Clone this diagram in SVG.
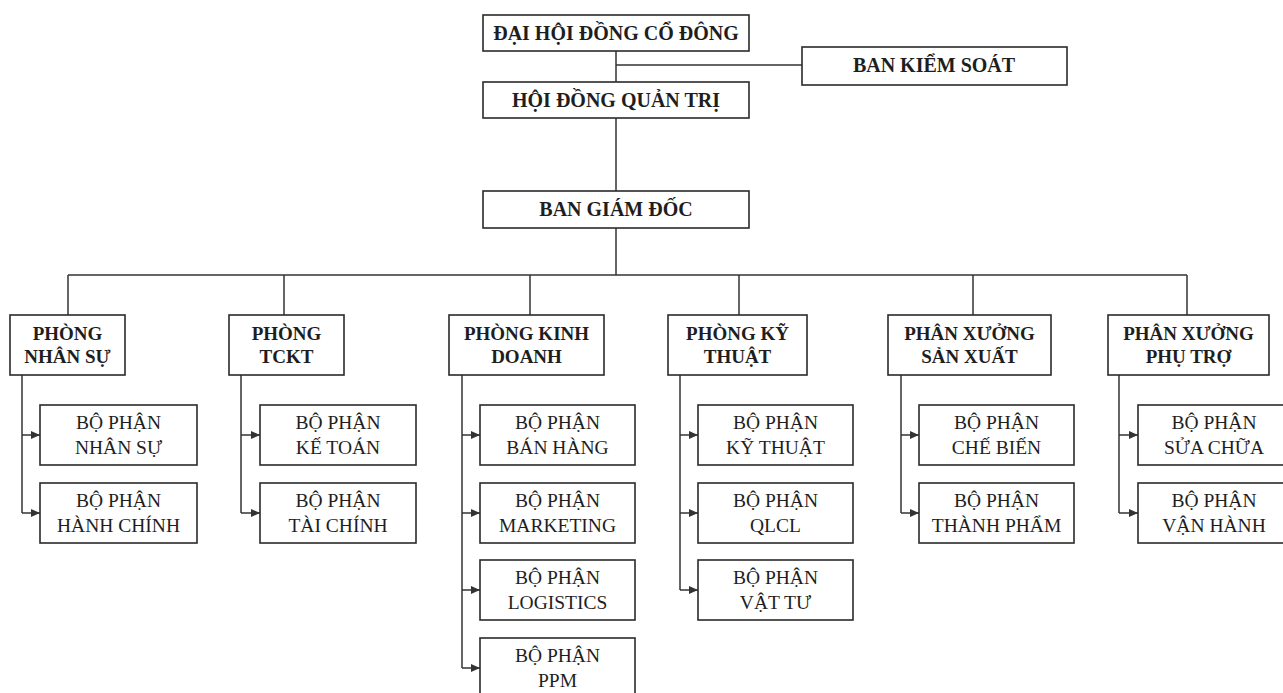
<svg xmlns="http://www.w3.org/2000/svg" width="1283" height="693" viewBox="0 0 1283 693">
<defs>
<marker id="arr" markerUnits="userSpaceOnUse" markerWidth="9" markerHeight="8" refX="9" refY="4" orient="auto">
<path d="M0,0 L9,4 L0,8 z" fill="#333"/>
</marker>
<style>
rect.b{fill:#fff;stroke:#2a2a2a;stroke-width:1.6}
text{font-family:"Liberation Serif","Times New Roman",serif;fill:#1e1e1e;text-anchor:middle}
text.t1{font-size:20px;font-weight:bold}
text.t2{font-size:19px;font-weight:bold}
text.t3{font-size:19.5px}
.c path{fill:none;stroke:#333;stroke-width:1.5}
</style>
</defs>
<rect width="1283" height="693" fill="#fff"/>
<g class="c" id="connectors">
<path d="M616,51 V82"/>
<path d="M616,118 V191"/>
<path d="M616,65 H802"/>
<path d="M616,228 V275"/>
<path d="M68,275 H1187"/>
<path d="M68,275 V315"/>
<path d="M284,275 V315"/>
<path d="M530,275 V315"/>
<path d="M739,275 V315"/>
<path d="M973,275 V315"/>
<path d="M1187,275 V315"/>
<path d="M22,375 V513"/>
<path d="M22,435 H40" marker-end="url(#arr)"/>
<path d="M22,513 H40" marker-end="url(#arr)"/>
<path d="M241,375 V513"/>
<path d="M241,435 H260" marker-end="url(#arr)"/>
<path d="M241,513 H260" marker-end="url(#arr)"/>
<path d="M462,375 V668"/>
<path d="M462,435 H480" marker-end="url(#arr)"/>
<path d="M462,513 H480" marker-end="url(#arr)"/>
<path d="M462,590 H480" marker-end="url(#arr)"/>
<path d="M462,668 H480" marker-end="url(#arr)"/>
<path d="M680,375 V590"/>
<path d="M680,435 H698" marker-end="url(#arr)"/>
<path d="M680,513 H698" marker-end="url(#arr)"/>
<path d="M680,590 H698" marker-end="url(#arr)"/>
<path d="M901,375 V513"/>
<path d="M901,435 H919" marker-end="url(#arr)"/>
<path d="M901,513 H919" marker-end="url(#arr)"/>
<path d="M1119,375 V513"/>
<path d="M1119,435 H1138" marker-end="url(#arr)"/>
<path d="M1119,513 H1138" marker-end="url(#arr)"/>
</g>
<g id="dhdcd"><rect class="b" x="483" y="15" width="266" height="36"/><text class="t1" x="616" y="40">ĐẠI HỘI ĐỒNG CỔ ĐÔNG</text></g>
<g id="bks"><rect class="b" x="802" y="47" width="265" height="38"/><text class="t1" x="934" y="72">BAN KIỂM SOÁT</text></g>
<g id="hdqt"><rect class="b" x="483" y="82" width="266" height="36"/><text class="t1" x="616" y="107">HỘI ĐỒNG QUẢN TRỊ</text></g>
<g id="bgd"><rect class="b" x="483" y="191" width="266" height="37"/><text class="t1" x="616" y="216">BAN GIÁM ĐỐC</text></g>

<g id="p-ns"><rect class="b" x="10" y="315" width="115" height="60"/><text class="t2" x="67.5" y="340">PHÒNG</text><text class="t2" x="67.5" y="363">NHÂN SỰ</text></g>
<g id="p-tckt"><rect class="b" x="229" y="315" width="115" height="60"/><text class="t2" x="286.5" y="340">PHÒNG</text><text class="t2" x="286.5" y="363">TCKT</text></g>
<g id="p-kd"><rect class="b" x="449" y="315" width="155" height="60"/><text class="t2" x="526.5" y="340">PHÒNG KINH</text><text class="t2" x="526.5" y="363">DOANH</text></g>
<g id="p-kt"><rect class="b" x="668" y="315" width="139" height="60"/><text class="t2" x="737.5" y="340">PHÒNG KỸ</text><text class="t2" x="737.5" y="363">THUẬT</text></g>
<g id="px-sx"><rect class="b" x="888" y="315" width="163" height="60"/><text class="t2" x="969.5" y="340">PHÂN XƯỞNG</text><text class="t2" x="969.5" y="363">SẢN XUẤT</text></g>
<g id="px-pt"><rect class="b" x="1108" y="315" width="161" height="60"/><text class="t2" x="1188.5" y="340">PHÂN XƯỞNG</text><text class="t2" x="1188.5" y="363">PHỤ TRỢ</text></g>

<g id="bp-ns"><rect class="b" x="40" y="405" width="157" height="60"/><text class="t3" x="118.5" y="429">BỘ PHẬN</text><text class="t3" x="118.5" y="454">NHÂN SỰ</text></g>
<g id="bp-hc"><rect class="b" x="40" y="483" width="157" height="60"/><text class="t3" x="118.5" y="507">BỘ PHẬN</text><text class="t3" x="118.5" y="532">HÀNH CHÍNH</text></g>
<g id="bp-kt"><rect class="b" x="260" y="405" width="156" height="60"/><text class="t3" x="338" y="429">BỘ PHẬN</text><text class="t3" x="338" y="454">KẾ TOÁN</text></g>
<g id="bp-tc"><rect class="b" x="260" y="483" width="156" height="60"/><text class="t3" x="338" y="507">BỘ PHẬN</text><text class="t3" x="338" y="532">TÀI CHÍNH</text></g>
<g id="bp-bh"><rect class="b" x="480" y="405" width="155" height="60"/><text class="t3" x="557.5" y="429">BỘ PHẬN</text><text class="t3" x="557.5" y="454">BÁN HÀNG</text></g>
<g id="bp-mk"><rect class="b" x="480" y="483" width="155" height="60"/><text class="t3" x="557.5" y="507">BỘ PHẬN</text><text class="t3" x="557.5" y="532">MARKETING</text></g>
<g id="bp-lg"><rect class="b" x="480" y="560" width="155" height="60"/><text class="t3" x="557.5" y="584">BỘ PHẬN</text><text class="t3" x="557.5" y="609">LOGISTICS</text></g>
<g id="bp-ppm"><rect class="b" x="480" y="638" width="155" height="60"/><text class="t3" x="557.5" y="662">BỘ PHẬN</text><text class="t3" x="557.5" y="687">PPM</text></g>
<g id="bp-kthuat"><rect class="b" x="698" y="405" width="155" height="60"/><text class="t3" x="775.5" y="429">BỘ PHẬN</text><text class="t3" x="775.5" y="454">KỸ THUẬT</text></g>
<g id="bp-qlcl"><rect class="b" x="698" y="483" width="155" height="60"/><text class="t3" x="775.5" y="507">BỘ PHẬN</text><text class="t3" x="775.5" y="532">QLCL</text></g>
<g id="bp-vt"><rect class="b" x="698" y="560" width="155" height="60"/><text class="t3" x="775.5" y="584">BỘ PHẬN</text><text class="t3" x="775.5" y="609">VẬT TƯ</text></g>
<g id="bp-cb"><rect class="b" x="919" y="405" width="155" height="60"/><text class="t3" x="996.5" y="429">BỘ PHẬN</text><text class="t3" x="996.5" y="454">CHẾ BIẾN</text></g>
<g id="bp-tp"><rect class="b" x="919" y="483" width="155" height="60"/><text class="t3" x="996.5" y="507">BỘ PHẬN</text><text class="t3" x="996.5" y="532">THÀNH PHẨM</text></g>
<g id="bp-sc"><rect class="b" x="1138" y="405" width="155" height="60"/><text class="t3" x="1214" y="429">BỘ PHẬN</text><text class="t3" x="1214" y="454">SỬA CHỮA</text></g>
<g id="bp-vh"><rect class="b" x="1138" y="483" width="155" height="60"/><text class="t3" x="1214" y="507">BỘ PHẬN</text><text class="t3" x="1214" y="532">VẬN HÀNH</text></g>
</svg>
